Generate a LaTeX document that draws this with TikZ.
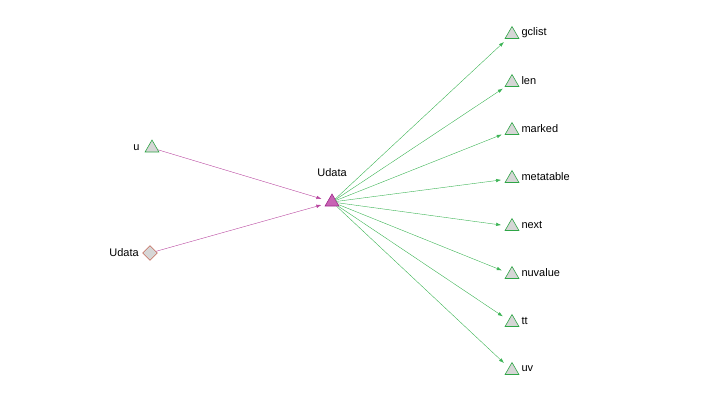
\documentclass[tikz,border=0pt]{standalone}
\usepackage{fontspec}
\setmainfont{Liberation Sans}
\usetikzlibrary{arrows.meta,shapes.geometric}
\definecolor{leafgreen}{RGB}{46,165,70}
\definecolor{edgegreen}{RGB}{60,180,85}
\definecolor{leaffill}{RGB}{214,214,214}
\definecolor{hubfill}{RGB}{200,100,180}
\definecolor{hubline}{RGB}{160,40,140}
\definecolor{edgemagenta}{RGB}{185,70,160}
\definecolor{diamondline}{RGB}{185,60,40}
\tikzset{
  leaf/.style={regular polygon,regular polygon sides=3,minimum size=16pt,inner sep=0pt,
    draw=leafgreen,fill=leaffill,semithick},
  hub/.style={leaf,draw=hubline,fill=hubfill},
  srcdiamond/.style={diamond,minimum size=15pt,inner sep=0pt,draw=diamondline,fill=leaffill},
  inedge/.style={draw=edgemagenta,-{Latex[length=5pt,width=3.5pt]},shorten >=11pt},
  outedge/.style={draw=edgegreen,-{Latex[length=5pt,width=3.5pt]},shorten >=11pt},
  every label/.style={font=\fontsize{11}{13}\selectfont}
}
\begin{document}
\begin{tikzpicture}[x=1pt,y=-1pt]
  \useasboundingbox (0,0) rectangle (720,400);

  \node [leaf,label={[label distance=4pt]left:u}] (u) at (152,148) {};
  \node [srcdiamond,label={[label distance=0pt]left:Udata}] (udata src) at (150,253) {};
  \node [hub,label={[label distance=13pt]above:Udata}] (udata) at (332,202) {};

  \foreach \name [count=\i from 0] in {gclist,len,marked,metatable,next,nuvalue,tt,uv}
  {
    \node [leaf,label={[label distance=1pt,yshift=1.5pt]right:\name}] (\name) at (512,34.5+48*\i) {};
    \draw [outedge] (udata) -- (\name.center);
  }

  \draw [inedge] (u) -- (udata.center);
  \draw [inedge] (udata src) -- (udata.center);
\end{tikzpicture}
\end{document}
